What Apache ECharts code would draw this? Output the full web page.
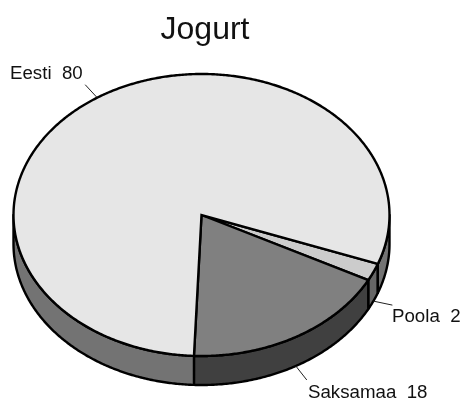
<!DOCTYPE html>
<html>
<head>
<meta charset="utf-8">
<style>html,body{margin:0;padding:0;background:#fff}#c{width:465px;height:401px}</style>
<script src="https://cdn.jsdelivr.net/npm/echarts@6/dist/echarts.min.js"></script>
</head>
<body>
<div id="c"></div>
<script>
var titleText = 'Jogurt';
var categories = ['Poola', 'Saksamaa', 'Eesti'];
var values = [2, 18, 80];
var topColors = ['#cccccc', '#808080', '#e6e6e6'];
var sideColors = ['#666666', '#404040', '#737373'];

var CX = 201.5, CY = 215, RX = 188, RY = 141, DEPTH = 29, START = 20.3;
var LINE = 2.4;
var labelLayout = [
  {dx: 19, dy: 4, tx: 392, ty: 317, align: 'left'},
  {dx: 11, dy: 14, tx: 308, ty: 393, align: 'left'},
  {dx: -12, dy: -13, tx: 10, ty: 74, align: 'left'}
];
var total = values.reduce(function (a, b) { return a + b; }, 0);
function sliceRange(i) {
  var acc = 0;
  for (var k = 0; k < i; k++) acc += values[k];
  return [START + acc / total * 360, START + (acc + values[i]) / total * 360];
}
function pt(deg, drop) {
  var r = deg * Math.PI / 180;
  return [CX + RX * Math.cos(r), CY + RY * Math.sin(r) + (drop || 0)];
}
function arc(a, b, drop) {
  var pts = [], n = Math.max(2, Math.ceil(Math.abs(b - a) * 2));
  for (var i = 0; i <= n; i++) pts.push(pt(a + (b - a) * i / n, drop));
  return pts;
}
function sideParts(range) {
  var parts = [];
  [0, 360].forEach(function (off) {
    var a = Math.max(range[0], off), b = Math.min(range[1], off + 180);
    if (b > a) parts.push([a, b]);
  });
  return parts;
}
function renderSide(params, api) {
  var i = params.dataIndex;
  return {
    type: 'group',
    children: sideParts(sliceRange(i)).map(function (p) {
      return {
        type: 'polygon',
        shape: {points: arc(p[0], p[1], 0).concat(arc(p[1], p[0], DEPTH))},
        style: {fill: sideColors[i], stroke: '#000', lineWidth: LINE, lineJoin: 'round'}
      };
    })
  };
}
function renderTop(params, api) {
  var i = params.dataIndex, r = sliceRange(i);
  return {
    type: 'polygon',
    shape: {points: [[CX, CY]].concat(arc(r[0], r[1], 0))},
    style: {fill: topColors[i], stroke: '#000', lineWidth: LINE, lineJoin: 'miter', miterLimit: 6}
  };
}
function renderLabel(params, api) {
  var i = params.dataIndex, r = sliceRange(i), mid = (r[0] + r[1]) / 2;
  var sn = Math.sin(mid * Math.PI / 180);
  var p = pt(mid, sn > 0 ? DEPTH : 0), l = labelLayout[i];
  return {
    type: 'group',
    children: [
      {type: 'line', shape: {x1: p[0], y1: p[1], x2: p[0] + l.dx, y2: p[1] + l.dy},
       style: {stroke: '#222', lineWidth: 1}},
      {type: 'text', style: {text: categories[i] + '  ' + values[i], x: l.tx, y: l.ty,
        fill: '#111', fontSize: 18.7, fontFamily: '"Liberation Sans", Arial, sans-serif',
        align: l.align, verticalAlign: 'middle'}}
    ]
  };
}
var seriesData = categories.map(function (c, i) { return {name: c, value: values[i]}; });
var chart = echarts.init(document.getElementById('c'), null, {renderer: 'canvas'});
chart.setOption({
  animation: false,
  backgroundColor: '#fff',
  title: {
    text: titleText, left: 200, top: 9, textAlign: 'center',
    textStyle: {fontFamily: '"Liberation Sans", Arial, sans-serif', fontSize: 32, fontWeight: 'normal', color: '#111'}
  },
  series: [
    {type: 'custom', coordinateSystem: 'none', renderItem: renderSide, data: seriesData, z: 1, silent: true},
    {type: 'custom', coordinateSystem: 'none', renderItem: renderTop, data: seriesData, z: 2, silent: true},
    {type: 'custom', coordinateSystem: 'none', renderItem: renderLabel, data: seriesData, z: 3, silent: true}
  ]
});
</script>
</body>
</html>
